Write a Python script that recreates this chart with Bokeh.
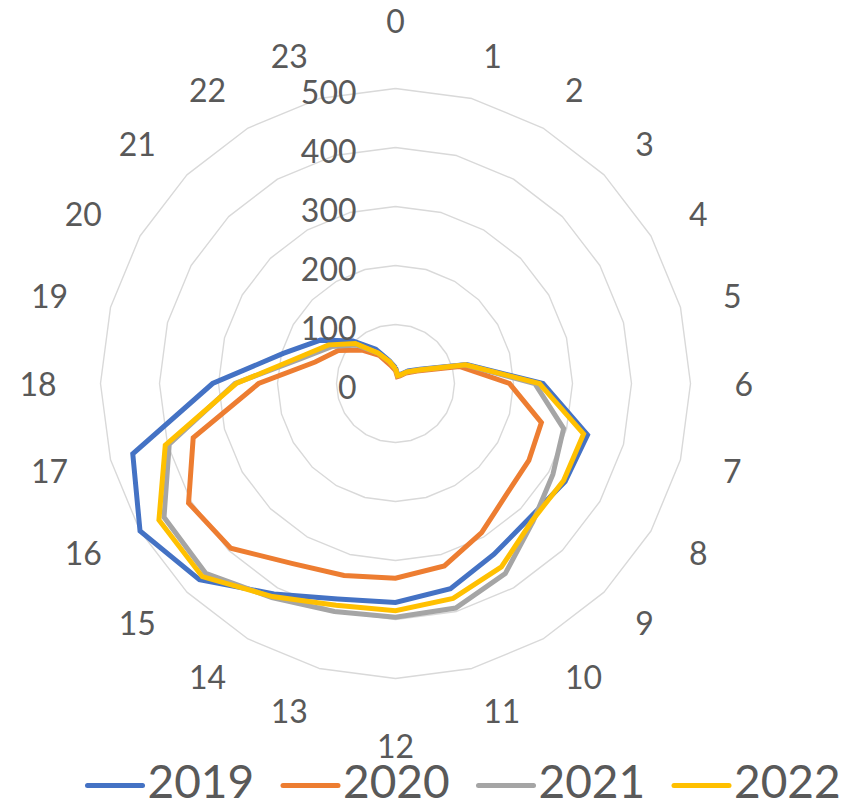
import numpy as np
from bokeh.plotting import figure
from bokeh.models import Range1d, ColumnDataSource
from bokeh.core.properties import value
from bokeh.embed import file_html
from bokeh.resources import INLINE

# ---------------- data ----------------
hours = [str(h) for h in range(24)]
years = ["2019", "2020", "2021", "2022"]
s2019 = [27, 15, 18, 30, 48, 125, 250, 337, 332, 322, 334, 360, 371, 378, 412, 470, 500, 461, 310, 197, 147, 102, 67, 40]
s2020 = [22, 12, 15, 25, 42, 112, 193, 256, 261, 266, 292, 320, 330, 337, 352, 395, 405, 355, 232, 141, 112, 80, 55, 32]
s2021 = [25, 14, 17, 28, 46, 122, 236, 295, 308, 330, 372, 394, 396, 400, 419, 455, 453, 397, 272, 165, 125, 92, 60, 38]
s2022 = [25, 14, 17, 28, 46, 123, 244, 330, 329, 328, 359, 377, 385, 389, 417, 463, 463, 404, 270, 170, 131, 96, 60, 38]
ticks = [0, 100, 200, 300, 400, 500]
tick_labels = ["0", "100", "200", "300", "400", "500"]

colors = ["#4472C4", "#ED7D31", "#A5A5A5", "#FFC000"]
series = [s2019, s2020, s2021, s2022]

# ---------------- layout ----------------
W, H = 851, 810
CX, CY = 395, 383          # centre in figure pixels (from left / top)
K = 0.59                   # pixels per value unit
TXT = "#595959"
FONT = value("Lato")

p = figure(width=W, height=H, output_backend="svg", toolbar_location=None,
           x_range=Range1d(-CX / K, (W - CX) / K),
           y_range=Range1d(-(H - CY) / K, CY / K),
           x_axis_location=None, y_axis_location=None, min_border=0)
p.grid.visible = False
p.outline_line_color = None
p.background_fill_color = "white"

n = len(hours)
theta = np.arange(n) * 2 * np.pi / n
sin_t, cos_t = np.sin(theta), np.cos(theta)

def closed(vals):
    v = np.asarray(vals, dtype=float)
    x = v * sin_t
    y = v * cos_t
    return np.append(x, x[0]), np.append(y, y[0])

# grid rings
for t in ticks[1:]:
    gx, gy = closed([t] * n)
    p.line(gx, gy, line_color="#D9D9D9", line_width=1.4)

# series
for vals, c in zip(series, colors):
    sx, sy = closed(vals)
    p.line(sx, sy, line_color=c, line_width=5, line_join="miter")

# hour labels
R = 339.0
lx, ly, la, ltxt = [], [], [], []
for i, h in enumerate(hours):
    if i == 0:
        lx.append(0); ly.append(363 / K); la.append("center")
    elif i == 12:
        lx.append(0); ly.append(-362 / K); la.append("center")
    else:
        lx.append(R * sin_t[i] / K); ly.append(R * cos_t[i] / K)
        la.append("left" if i < 12 else "right")
    ltxt.append(h)
src = ColumnDataSource(dict(x=lx, y=ly, t=ltxt, a=la))
p.text("x", "y", text="t", text_align="a", source=src, text_baseline="alphabetic",
       y_offset=0, text_font=FONT, text_font_size="32px", text_color=TXT)

# radial tick labels
rsrc = ColumnDataSource(dict(x=[-39 / K] * len(ticks), y=ticks, t=tick_labels))
p.text("x", "y", text="t", source=rsrc, text_align="right", text_baseline="alphabetic",
       y_offset=3, text_font=FONT, text_font_size="32px", text_color=TXT)

# legend (drawn below the chart)
LEG_X0, LEG_PITCH, LEG_LINE = 87, 195.5, 55
LEG_TEXT_Y, LEG_MID = 781, 785
for j, (yr, c) in enumerate(zip(years, colors)):
    x0 = LEG_X0 + LEG_PITCH * j
    p.segment(x0=[(x0 - CX) / K], y0=[(CY - LEG_MID) / K],
              x1=[(x0 + LEG_LINE - CX) / K], y1=[(CY - LEG_MID) / K],
              line_color=c, line_width=5, line_cap="round")
    p.text(x=[(x0 + LEG_LINE + 5 - CX) / K], y=[(CY - LEG_TEXT_Y) / K], text=[yr],
           text_align="left", text_baseline="alphabetic", text_font=FONT,
           text_font_size="46px", text_color=TXT)

open("out.html", "w").write(file_html(p, INLINE))
